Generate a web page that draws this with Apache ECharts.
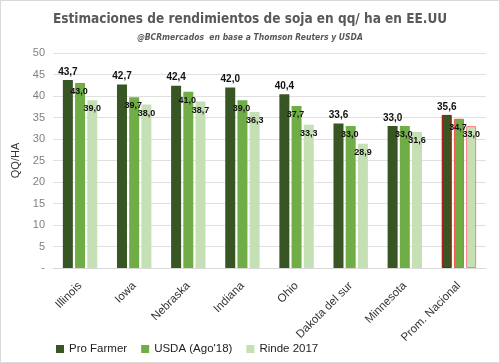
<!DOCTYPE html>
<html><head><meta charset="utf-8">
<script src="https://cdn.jsdelivr.net/npm/echarts@6/dist/echarts.min.js"></script>
<style>html,body{margin:0;padding:0;background:#fff}#c{width:498px;height:361px;border:1px solid #d9d9d9}</style>
</head><body><div id="c"></div>
<script>
const categories = ['Illinois','Iowa','Nebraska','Indiana','Ohio','Dakota del sur','Minnesota','Prom. Nacional'];
const proFarmer = [43.7, 42.7, 42.4, 42.0, 40.4, 33.6, 33.0, 35.6];
const usda = [43.0, 39.7, 41.0, 39.0, 37.7, 33.0, 33.0, 34.7];
const rinde2017 = [39.0, 38.0, 38.7, 36.3, 33.3, 28.9, 31.6, 33.0];
const seriesNames = ['Pro Farmer', "USDA (Ago'18)", 'Rinde 2017'];
const colors = ['#375623', '#70AD47', '#C5E0B4'];
const hiBorder = ['#c00000', '#ff5050', '#ff7c80'];

const fmt = v => v.toFixed(1).replace('.', ',');
function mk(vals, i) {
  return vals.map((v, k) => k === categories.length - 1
    ? { value: v, itemStyle: { borderColor: hiBorder[i], borderWidth: 1 } }
    : v);
}
const chart = echarts.init(document.getElementById('c'));
chart.setOption({
  animation: false,
  title: [{
    text: 'Estimaciones de rendimientos de soja en qq/ ha en EE.UU',
    left: 'center', top: 6,
    textStyle: { fontFamily: 'DejaVu Sans Condensed', fontWeight: 'bold', fontSize: 13.5, color: '#595959' }
  }, {
    text: '@BCRmercados  en base a Thomson Reuters y USDA',
    left: 'center', top: 27,
    textStyle: { fontFamily: 'DejaVu Sans Condensed', fontWeight: 'bold', fontStyle: 'italic', fontSize: 8.5, color: '#595959' }
  }],
  grid: { left: 52, right: 13, top: 52, bottom: 94 },
  legend: {
    bottom: 2, left: 50, itemWidth: 8, itemHeight: 8, itemGap: 14, icon: 'rect',
    textStyle: { fontFamily: 'Liberation Sans, Arial', fontSize: 11.5, color: '#222' },
    data: seriesNames
  },
  xAxis: {
    type: 'category', data: categories,
    axisLine: { lineStyle: { color: '#d9d9d9' } }, axisTick: { show: false },
    axisLabel: { rotate: 45, fontFamily: 'Liberation Sans, Arial', fontSize: 11.5, color: '#333', margin: 16, interval: 0 }
  },
  yAxis: {
    type: 'value', min: 0, max: 50, interval: 5,
    name: 'QQ/HA', nameLocation: 'middle', nameGap: 32, nameRotate: 90,
    nameTextStyle: { fontFamily: 'Liberation Sans, Arial', fontSize: 11, color: '#333' },
    axisLabel: { fontFamily: 'Liberation Sans, Arial', fontSize: 11, color: '#7f7f7f', formatter: v => v === 0 ? '-' : v },
    splitLine: { lineStyle: { color: '#e0e0e0', width: 1 } }
  },
  series: [
    { name: seriesNames[0], type: 'bar', data: mk(proFarmer, 0), barWidth: 10, barGap: '22%', itemStyle: { color: colors[0] },
      label: { show: true, position: 'top', distance: 3, formatter: p => fmt(p.value), fontFamily: 'Liberation Sans, Arial', fontWeight: 'bold', fontSize: 10, color: '#111' } },
    { name: seriesNames[1], type: 'bar', data: mk(usda, 1), barWidth: 10, itemStyle: { color: colors[1] },
      label: { show: true, position: 'insideTop', distance: 4, offset: [-1, 0], formatter: p => fmt(p.value), fontFamily: 'Liberation Sans, Arial', fontWeight: 'bold', fontSize: 9, color: '#111' } },
    { name: seriesNames[2], type: 'bar', data: mk(rinde2017, 2), barWidth: 10, itemStyle: { color: colors[2] },
      label: { show: true, position: 'insideTop', distance: 4, formatter: p => fmt(p.value), fontFamily: 'Liberation Sans, Arial', fontWeight: 'bold', fontSize: 9, color: '#111' } }
  ]
});
</script></body></html>
